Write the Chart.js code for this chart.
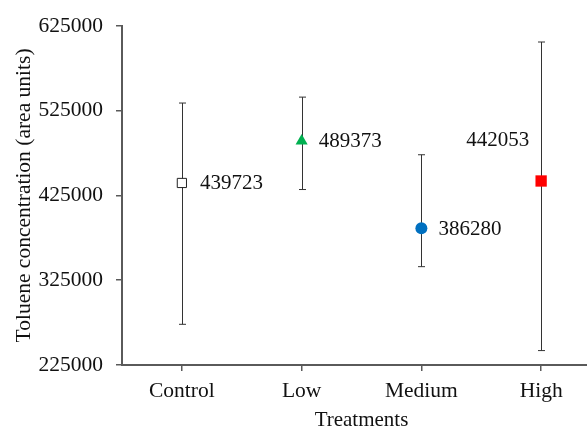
<!DOCTYPE html>
<html>
<head>
<meta charset="utf-8">
<script src="https://cdn.jsdelivr.net/npm/chart.js@4/dist/chart.umd.min.js"></script>
<style>
  html, body { margin: 0; padding: 0; background: #fff; overflow: hidden; }
  #wrap { width: 587px; height: 429px; overflow: hidden; }
</style>
</head>
<body>
<div id="wrap"><canvas id="chart" width="609" height="429"></canvas></div>
<script>
// Datos
const treatments = ['Control', 'Low', 'Medium', 'High'];
const means = [439723, 489373, 386280, 442053];
const lows = [273000, 432000, 341000, 242000];
const highs = [534000, 541000, 473000, 606000];
const yTicks = [225000, 325000, 425000, 525000, 625000];

const FONT = '"Liberation Serif", "Times New Roman", serif';
const AXIS = '#5a5a5a';

// Barras de error (min / max) dibujadas con las escalas del grafico
const errorBars = {
  id: 'errorBars',
  beforeDatasetsDraw(chart) {
    const { ctx, scales: { x, y } } = chart;
    ctx.save();
    ctx.strokeStyle = '#333';
    ctx.lineWidth = 1;
    treatments.forEach((t, i) => {
      const px = Math.round(x.getPixelForValue(i)) + 0.5;
      const top = y.getPixelForValue(highs[i]);
      const bot = y.getPixelForValue(lows[i]);
      ctx.beginPath();
      ctx.moveTo(px, top); ctx.lineTo(px, bot);
      ctx.moveTo(px - 3.5, top); ctx.lineTo(px + 3.5, top);
      ctx.moveTo(px - 3.5, bot); ctx.lineTo(px + 3.5, bot);
      ctx.stroke();
    });
    ctx.restore();
  }
};

// Etiquetas de valor junto a cada punto
const labelPos = [
  { dx: 18, dy: 1, align: 'left' },
  { dx: 17, dy: 1, align: 'left' },
  { dx: 17, dy: 1, align: 'left' },
  { dx: -12, dy: -41, align: 'right' }
];
const valueLabels = {
  id: 'valueLabels',
  afterDatasetsDraw(chart) {
    const { ctx } = chart;
    const meta = chart.getDatasetMeta(0);
    ctx.save();
    ctx.font = '21px ' + FONT;
    ctx.fillStyle = '#111';
    ctx.textBaseline = 'middle';
    meta.data.forEach((pt, i) => {
      const p = labelPos[i];
      ctx.textAlign = p.align;
      ctx.fillText(String(means[i]), pt.x + p.dx, pt.y + p.dy);
    });
    ctx.restore();
  }
};

new Chart(document.getElementById('chart'), {
  type: 'line',
  data: {
    labels: treatments,
    datasets: [{
      data: means,
      showLine: false,
      pointStyle: ['rect', 'triangle', 'circle', 'rect'],
      pointRadius: [6.5, 7, 6, 8],
      pointBackgroundColor: ['#fff', '#00B050', '#0070C0', '#FF0000'],
      pointBorderColor: ['#222', '#00B050', '#0070C0', '#FF0000'],
      pointBorderWidth: [1, 0, 0, 0],
      pointHoverRadius: [6.5, 7, 6, 8]
    }]
  },
  options: {
    responsive: false,
    animation: false,
    events: [],
    layout: { padding: { top: 25, right: 0, left: 0, bottom: 0 } },
    plugins: { legend: { display: false }, tooltip: { enabled: false } },
    scales: {
      x: {
        type: 'category',
        offset: true,
        grid: { display: true, drawOnChartArea: false, tickLength: 6, color: AXIS, lineWidth: 1.5 },
        border: { color: AXIS, width: 2 },
        ticks: { color: '#111', font: { family: FONT, size: 21.5 }, padding: 7 },
        title: { display: true, text: 'Treatments', color: '#111', font: { family: FONT, size: 21, lineHeight: 0.8 }, padding: { top: 0, bottom: 0 } },
        afterFit(s) { s.height = 64; }
      },
      y: {
        min: 225000,
        max: 625000,
        afterBuildTicks(s) { s.ticks = yTicks.map(v => ({ value: v })); },
        grid: { display: true, drawOnChartArea: false, tickLength: 6, color: AXIS, lineWidth: 1.5 },
        border: { color: AXIS, width: 2 },
        ticks: { color: '#111', font: { family: FONT, size: 21.5 }, padding: 13, callback: v => String(v) },
        title: { display: true, text: 'Toluene concentration (area units)', color: '#111', font: { family: FONT, size: 21.5 }, padding: { top: 11, bottom: 4 } },
        afterFit(s) { s.width = 122; }
      }
    }
  },
  plugins: [errorBars, valueLabels]
});
</script>
</body>
</html>
